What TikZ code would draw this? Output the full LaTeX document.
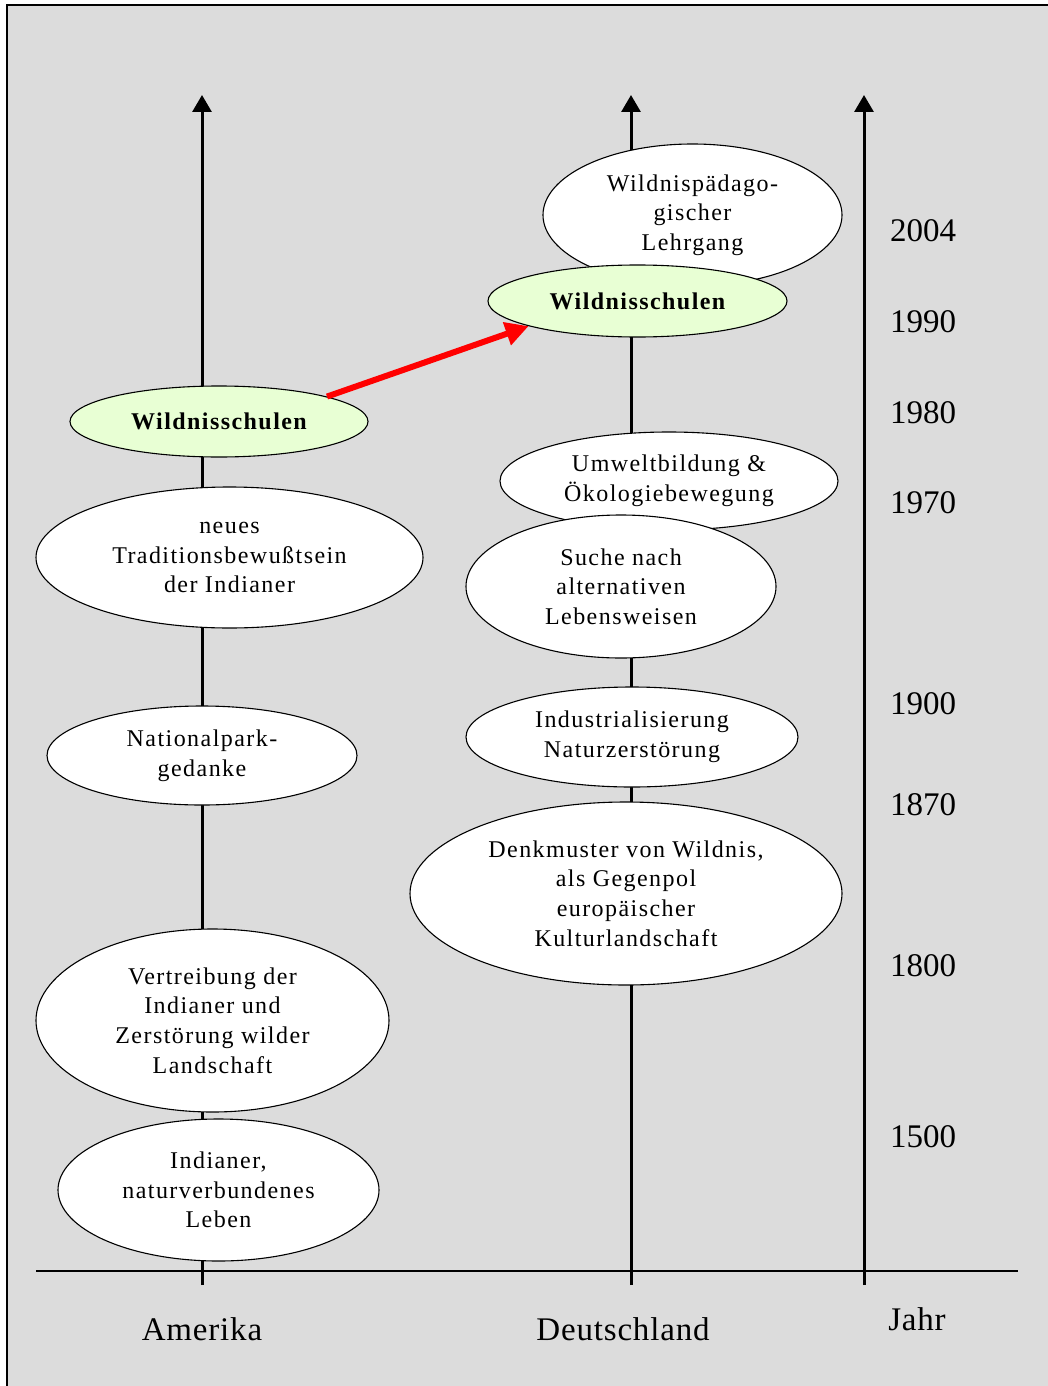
\documentclass[tikz,border=0pt]{standalone}
\usepackage{fontspec}
\setmainfont{Liberation Serif}
\newfontfamily\spacedserif[LetterSpace=6]{Liberation Serif}
\newfontfamily\labelserif[LetterSpace=2.5]{Liberation Serif}
\usetikzlibrary{shapes.geometric,arrows.meta}
\definecolor{panelgray}{HTML}{DCDCDC}
\definecolor{schoolgreen}{HTML}{E8FFD4}
\begin{document}
\begin{tikzpicture}[x=1pt,y=-1pt,
  event/.style={ellipse, draw=black, line width=1.1pt, fill=white, inner sep=0pt,
    align=center, font=\spacedserif\fontsize{24}{29.7}\selectfont},
  school/.style={event, fill=schoolgreen,
    font=\spacedserif\bfseries\fontsize{24}{29.7}\selectfont},
  timeaxis/.style={line width=3pt, -{Triangle[width=19pt,length=17pt]}},
  yearlabel/.style={font=\fontsize{33}{36}\selectfont, inner sep=0pt},
  columnlabel/.style={font=\labelserif\fontsize{33}{36}\selectfont, inner sep=0pt},
  transfer/.style={draw=red, line width=6pt, -{Triangle[width=23pt,length=23pt]}}
]
\useasboundingbox (0,0) rectangle (1048,1386);

% panel and frame
\fill[panelgray] (7,5) rectangle (1048,1386);
\draw[line width=2.5pt] (7,1400) -- (7,5) -- (1060,5);

% ground line
\coordinate (gL) at (36,1271);
\coordinate (gR) at (1018,1271);
\draw[line width=1.3pt] (gL) -- (gR);

% time axes
\coordinate (amBot) at (202,1285);
\coordinate (amTop) at (202,95);
\coordinate (deBot) at (631,1285);
\coordinate (deTop) at (631,95);
\coordinate (yrBot) at (864,1285);
\coordinate (yrTop) at (864,95);
\draw[timeaxis] (amBot) -- (amTop);
\draw[timeaxis] (deBot) -- (deTop);
\draw[timeaxis] (yrBot) -- (yrTop);

% Amerika
\node[event, minimum width=321pt, minimum height=142pt] (am1) at (218.5,1190)
  {Indianer,\\naturverbundenes\\Leben};
\node[event, minimum width=353pt, minimum height=183pt] (am2) at (212.5,1020.5)
  {Vertreibung der\\Indianer und\\Zerstörung wilder\\Landschaft};
\node[event, minimum width=310pt, minimum height=99pt] (am3) at (202,755.5)
  {Nationalpark-\\gedanke};
\node[event, minimum width=387pt, minimum height=141pt] (am4) at (229.5,557.5)
  {neues\\Traditionsbewußtsein\\der Indianer};
\node[school, minimum width=298pt, minimum height=71pt] (ws1) at (219,421.5)
  {Wildnisschulen};

% Deutschland
\node[event, minimum width=432pt, minimum height=183pt] (de1) at (626,893.5)
  {Denkmuster von Wildnis,\\als Gegenpol\\europäischer\\Kulturlandschaft};
\node[event, minimum width=332pt, minimum height=100pt] (de2) at (632,737)
  {Industrialisierung\\Naturzerstörung};
\node[event, minimum width=338pt, minimum height=98pt] (de3) at (669,481)
  {Umweltbildung \&\\Ökologiebewegung};
\node[event, minimum width=310pt, minimum height=143pt] (de4) at (621,586.5)
  {Suche nach\\alternativen\\Lebensweisen};
\node[event, minimum width=299pt, minimum height=142pt] (de5) at (692.5,215)
  {Wildnispädago-\\gischer\\Lehrgang};
\node[school, minimum width=299pt, minimum height=72pt] (ws2) at (637.5,301)
  {Wildnisschulen};

% transfer of the idea
\draw[transfer] (ws1.13) -- (ws2.193);

% years
\node[yearlabel] (y2004) at (923,231) {2004};
\node[yearlabel] (y1990) at (923,322) {1990};
\node[yearlabel] (y1980) at (923,413) {1980};
\node[yearlabel] (y1970) at (923,503) {1970};
\node[yearlabel] (y1900) at (923,704) {1900};
\node[yearlabel] (y1870) at (923,805) {1870};
\node[yearlabel] (y1800) at (923,966) {1800};
\node[yearlabel] (y1500) at (923,1137) {1500};

% column labels
\node[columnlabel] (lblAm) at (202,1329) {Amerika};
\node[columnlabel] (lblDe) at (623,1329) {Deutschland};
\node[columnlabel] (lblYr) at (917,1319) {Jahr};
\end{tikzpicture}
\end{document}
